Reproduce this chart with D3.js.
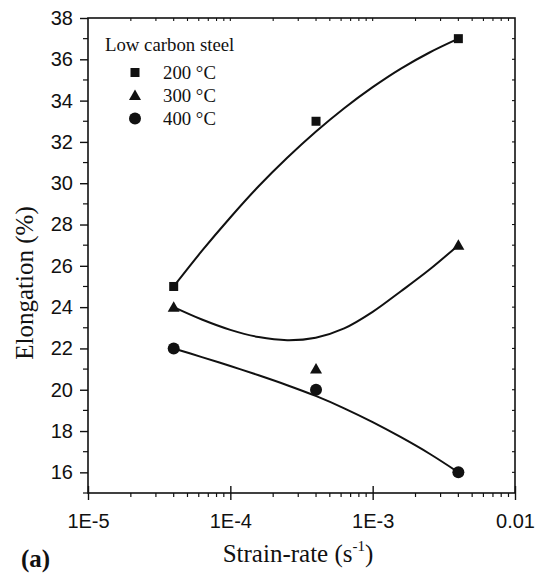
<!DOCTYPE html>
<html>
<head>
<meta charset="utf-8">
<script src="https://cdn.jsdelivr.net/npm/d3@7"></script>
<style>
    body { margin: 0; background: #fff; }
    svg { display: block; }
</style>
</head>
<body>
<div id="chart"></div>
<script>

// measured data points (strain-rate, elongation %)
const rates = [4e-5, 4e-4, 4e-3];
const elong200 = [25, 33, 37];
const elong300 = [24, 21, 27];
const elong400 = [22, 20, 16];

// fitted curves
const fitRates = [4e-5, 6.31e-5, 1e-4, 1.58e-4, 2.51e-4, 3.98e-4, 6.31e-4, 1e-3, 1.58e-3, 2.51e-3, 4e-3];
const fit200 = [25, 26.72, 28.34, 29.85, 31.23, 32.49, 33.63, 34.65, 35.55, 36.33, 37];
const fit300 = [24.0, 23.4, 22.9, 22.55, 22.4, 22.52, 22.97, 23.77, 24.77, 25.82, 27.0];
const fit400 = [22.0, 21.58, 21.15, 20.7, 20.22, 19.7, 19.1, 18.43, 17.7, 16.9, 16.0];

const legendTitle = "Low carbon steel";
const seriesNames = ["200 °C", "300 °C", "400 °C"];
const seriesShapes = ["square", "triangle", "circle"];

const xTickValues = [1e-5, 1e-4, 1e-3, 1e-2];
const xTickLabels = ["1E-5", "1E-4", "1E-3", "0.01"];
const yTickValues = d3.range(16, 39, 2);

let width = 548, height = 575;
let margin = {top: 18, right: 33, bottom: 82, left: 88};

let svg = d3.select("#chart").append("svg")
    .attr("width", width)
    .attr("height", height);

let x = d3.scaleLog()
    .domain([1e-5, 1e-2])
    .range([margin.left, width - margin.right]);

let y = d3.scaleLinear()
    .domain([15, 38])
    .range([height - margin.bottom, margin.top]);

let sans = "'Liberation Sans', Arial, Helvetica, sans-serif";
let serif = "'Liberation Serif', 'Times New Roman', Times, serif";

// minor tick positions for log axis
let minorX = [];
[1e-5, 1e-4, 1e-3].forEach(d => {
    for (let k = 2; k <= 9; k++) minorX.push(d * k);
});
let minorY = d3.range(15, 39, 1).filter(d => d % 2 === 1);

// frame
svg.append("rect")
    .attr("x", x.range()[0])
    .attr("y", y.range()[1])
    .attr("width", x.range()[1] - x.range()[0])
    .attr("height", y.range()[0] - y.range()[1])
    .attr("fill", "none")
    .attr("stroke", "#111")
    .attr("stroke-width", 1.6);

// bottom axis: majors cross the line, minors point out
let bottom = svg.append("g")
    .attr("class", "x-axis")
    .attr("transform", `translate(0, ${y.range()[0]})`)
    .call(d3.axisBottom(x)
        .tickValues(xTickValues)
        .tickFormat((d, i) => xTickLabels[i])
        .tickSizeInner(7)
        .tickSizeOuter(0)
        .tickPadding(14));
bottom.select(".domain").remove();
bottom.selectAll(".tick line").attr("y1", -7).attr("stroke", "#111").attr("stroke-width", 1.4);
bottom.selectAll("text").attr("font-family", sans).attr("font-size", 20).attr("fill", "#111");

svg.append("g")
    .attr("transform", `translate(0, ${y.range()[0]})`)
    .selectAll("line")
    .data(minorX)
    .enter().append("line")
    .attr("x1", d => x(d)).attr("x2", d => x(d))
    .attr("y1", 0).attr("y2", 4)
    .attr("stroke", "#111").attr("stroke-width", 1.2);

// top axis: small inward ticks
svg.append("g")
    .selectAll("line")
    .data(minorX.concat([1e-4, 1e-3]))
    .enter().append("line")
    .attr("x1", d => x(d)).attr("x2", d => x(d))
    .attr("y1", y.range()[1]).attr("y2", y.range()[1] + 3)
    .attr("stroke", "#111").attr("stroke-width", 1.1);

// left axis
let left = svg.append("g")
    .attr("class", "y-axis")
    .attr("transform", `translate(${x.range()[0]}, 0)`)
    .call(d3.axisLeft(y)
        .tickValues(yTickValues)
        .tickSizeInner(8)
        .tickSizeOuter(0)
        .tickPadding(7));
left.select(".domain").remove();
left.selectAll(".tick line").attr("stroke", "#111").attr("stroke-width", 1.4);
left.selectAll("text").attr("font-family", sans).attr("font-size", 20).attr("fill", "#111");

svg.append("g")
    .selectAll("line")
    .data(minorY)
    .enter().append("line")
    .attr("x1", x.range()[0] - 5).attr("x2", x.range()[0])
    .attr("y1", d => y(d)).attr("y2", d => y(d))
    .attr("stroke", "#111").attr("stroke-width", 1.2);

// right axis: small inward ticks
svg.append("g")
    .selectAll("line")
    .data(d3.range(16, 38, 1))
    .enter().append("line")
    .attr("x1", x.range()[1] - 3).attr("x2", x.range()[1])
    .attr("y1", d => y(d)).attr("y2", d => y(d))
    .attr("stroke", "#111").attr("stroke-width", 1.1);

// fitted curves
let line = d3.line()
    .x(d => x(d[0]))
    .y(d => y(d[1]))
    .curve(d3.curveCatmullRom.alpha(0.5));

[fit200, fit300, fit400].forEach(fit => {
    svg.append("path")
        .datum(fitRates.map((r, i) => [r, fit[i]]))
        .attr("fill", "none")
        .attr("stroke", "#111")
        .attr("stroke-width", 2)
        .attr("d", line);
});

// markers
function drawMarker(g, shape, cx, cy) {
    if (shape === "square") {
        g.append("rect")
            .attr("x", cx - 4.5).attr("y", cy - 4.5)
            .attr("width", 9).attr("height", 9)
            .attr("fill", "#111");
    } else if (shape === "triangle") {
        g.append("path")
            .attr("d", `M${cx},${cy - 6}L${cx + 6},${cy + 4.5}L${cx - 6},${cy + 4.5}Z`)
            .attr("fill", "#111");
    } else {
        g.append("circle")
            .attr("cx", cx).attr("cy", cy).attr("r", 6)
            .attr("fill", "#111");
    }
}

let marks = svg.append("g");
[elong200, elong300, elong400].forEach((vals, s) => {
    vals.forEach((v, i) => drawMarker(marks, seriesShapes[s], x(rates[i]), y(v)));
});

// legend
let legend = svg.append("g").attr("class", "legend");
legend.append("text")
    .attr("x", 105).attr("y", 51)
    .attr("font-family", serif).attr("font-size", 18.8).attr("fill", "#111")
    .text(legendTitle);

seriesNames.forEach((name, i) => {
    let cy = 72.5 + i * 23;
    drawMarker(legend, seriesShapes[i], 135, cy);
    legend.append("text")
        .attr("x", 163).attr("y", cy + 6.5)
        .attr("font-family", serif).attr("font-size", 18.8).attr("fill", "#111")
        .text(name);
});

// axis titles
let xTitle = svg.append("text")
    .attr("x", 298).attr("y", 562)
    .attr("text-anchor", "middle")
    .attr("font-family", serif).attr("font-size", 25).attr("fill", "#111");
xTitle.append("tspan").text("Strain-rate (s");
xTitle.append("tspan").attr("font-size", 15).attr("dy", -11).text("-1");
xTitle.append("tspan").attr("dy", 11).text(")");

svg.append("text")
    .attr("transform", "translate(33, 283) rotate(-90)")
    .attr("text-anchor", "middle")
    .attr("font-family", serif).attr("font-size", 25).attr("fill", "#111")
    .text("Elongation (%)");

svg.append("text")
    .attr("x", 21).attr("y", 567)
    .attr("font-family", serif).attr("font-size", 25).attr("font-weight", "bold").attr("fill", "#111")
    .text("(a)");

</script>
</body>
</html>
